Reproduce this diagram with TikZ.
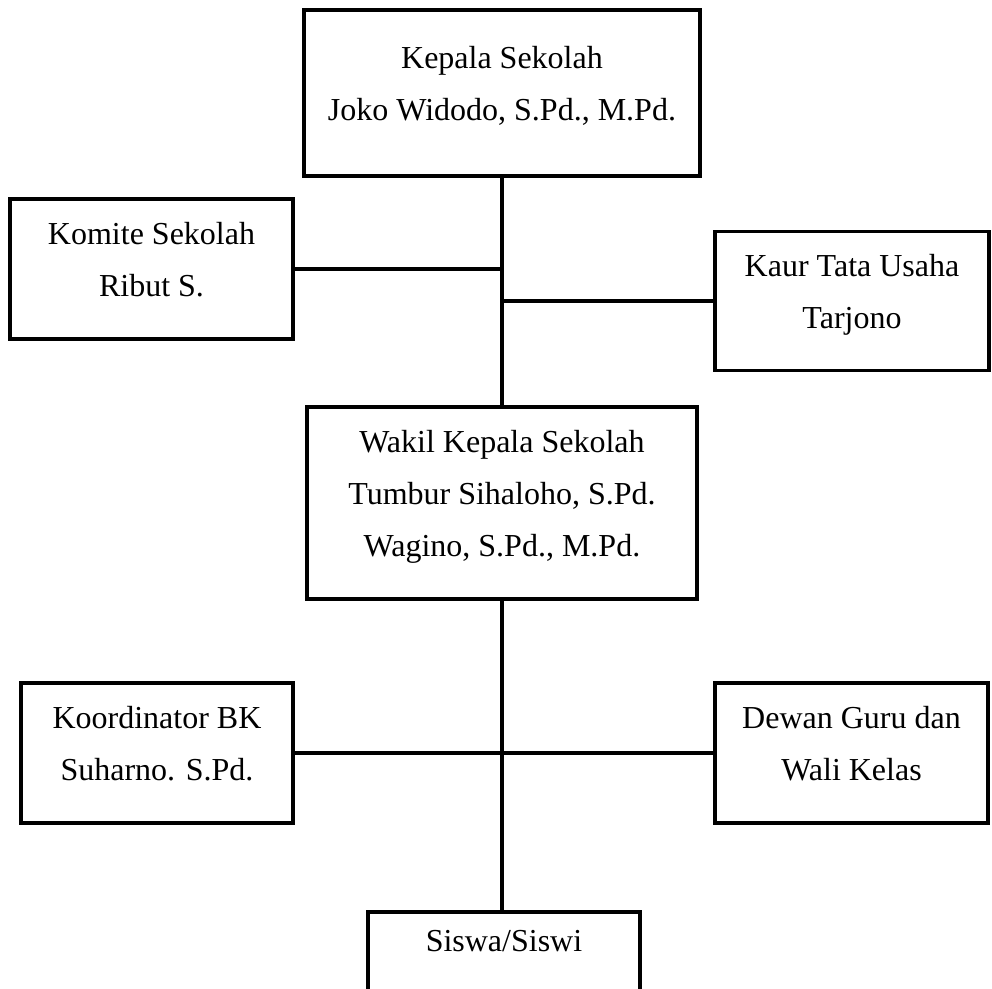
\documentclass[tikz,border=0pt]{standalone}
\usepackage{fontspec}
\setmainfont{Liberation Serif}
\usepackage{tikz}
\usetikzlibrary{positioning}

\begin{document}
\begin{tikzpicture}[x=0.5pt, y=-0.5pt,
		box/.style={rectangle, draw=black, fill=white, line width=1.6pt, align=center,
			font=\fontsize{16pt}{26pt}\selectfont, text depth=10pt, inner sep=0pt},
		garis/.style={black, line width=1.8pt}]
	
	\useasboundingbox (0,0) rectangle (992,989);
	
	% Pimpinan
	\node[box, minimum width=198pt, minimum height=83pt] (kepsek) at (502, 93)
		{Kepala Sekolah\\Joko Widodo, S.Pd., M.Pd.};
	\node[box, minimum width=141.5pt, minimum height=70pt] (komite) at (151.5, 269)
		{Komite Sekolah\\Ribut S.};
	\node[box, minimum width=137pt, minimum height=69.5pt] (kaur) at (852, 301)
		{Kaur Tata Usaha\\Tarjono};
	
	% Wakil
	\node[box, minimum width=195pt, minimum height=96pt] (wakasek) at (502, 503)
		{Wakil Kepala Sekolah\\Tumbur Sihaloho, S.Pd.\\Wagino, S.Pd., M.Pd.};
	
	% Bawah
	\node[box, minimum width=136pt, minimum height=70pt] (bk) at (157, 753)
		{Koordinator BK\\Suharno. S.Pd.};
	\node[box, minimum width=136.5pt, minimum height=70pt] (guru) at (851.5, 753)
		{Dewan Guru dan\\Wali Kelas};
	\node[box, minimum width=136pt, minimum height=70pt, text depth=41pt] (siswa) at (504, 982)
		{Siswa/Siswi};
	
	% Garis
	\draw[garis] (kepsek.south) -- (wakasek.north);
	\draw[garis] (komite.east) -- (komite.east -| kepsek.south);
	\draw[garis] (kaur.west) -- (kaur.west -| kepsek.south);
	\draw[garis] (wakasek.south) -- (wakasek.south |- siswa.north);
	\draw[garis] (bk.east) -- (guru.west);
	
\end{tikzpicture}
\end{document}
